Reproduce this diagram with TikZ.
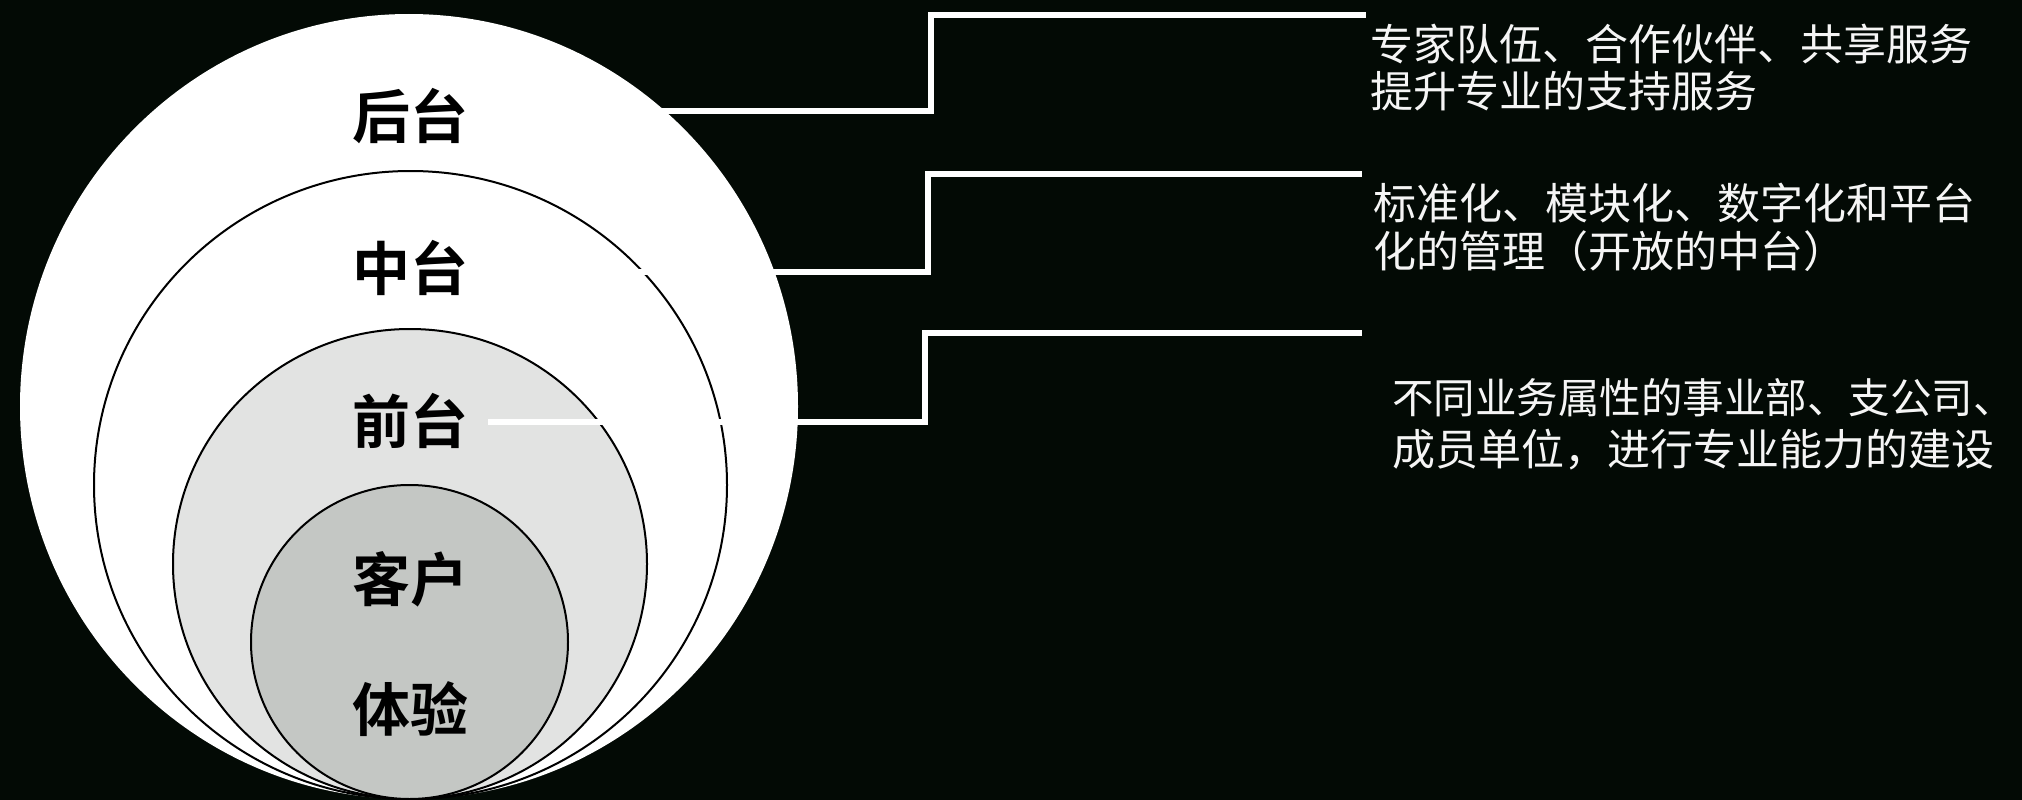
\documentclass[tikz,border=0pt]{standalone}
\usepackage{fontspec}
\newfontfamily\cjk{Noto Sans CJK SC}
\newfontfamily\cjkbold{Noto Sans CJK SC Bold}
\usetikzlibrary{shapes.geometric}
\definecolor{bgdark}{RGB}{3,10,5}
\definecolor{ringgray}{RGB}{226,227,226}
\definecolor{coregray}{RGB}{196,199,196}
\definecolor{txtwhite}{RGB}{245,245,245}
\tikzset{
  ring/.style={ellipse, inner sep=0pt, outer sep=0pt, line width=2pt, draw=black},
  lvl/.style={font=\cjkbold\fontsize{58}{58}\selectfont, text=black, anchor=base, inner sep=0pt},
  desc/.style={font=\cjk\fontsize{43}{46}\selectfont, text=txtwhite, anchor=base west, inner sep=0pt},
  leader/.style={draw=white, line width=6.5pt, line cap=butt, line join=miter}
}
\begin{document}
\begin{tikzpicture}[x=1pt, y=-1pt]
\useasboundingbox (0,0) rectangle (2022,800);
\fill[bgdark] (0,0) rectangle (2022,800);

% nested ellipses
\node[ellipse, inner sep=0pt, fill=white, minimum width=778pt, minimum height=785pt] (back) at (409,406.5) {};
\node[ring, fill=white, minimum width=633pt, minimum height=628pt] (mid) at (410.5,485) {};
\node[ring, fill=ringgray, minimum width=474pt, minimum height=470pt] (front) at (410,564) {};
\node[ring, fill=coregray, minimum width=317pt, minimum height=314pt] (core) at (409.5,642) {};

% labels in ellipses
\node[lvl] (lback) at (410,138) {后台};
\node[lvl] (lmid) at (410,290) {中台};
\node[lvl] (lfront) at (410,443) {前台};
\node[lvl] (lcore1) at (410,601) {客户};
\node[lvl] (lcore2) at (410,731) {体验};

% leader lines
\coordinate (s1) at (650,111);
\coordinate (e1) at (1366,15);
\coordinate (s2) at (600,272);
\coordinate (e2) at (1362,174);
\coordinate (s3) at (488,422);
\coordinate (e3) at (1362,333);
\draw[leader] (s1) -- ++(281,0) |- (e1);
\draw[leader] (s2) -- ++(328,0) |- (e2);
\draw[leader] (s3) -- ++(437,0) |- (e3);

% descriptions
\node[desc] (d1a) at (1370,61) {专家队伍、合作伙伴、共享服务};
\node[desc] (d1b) at (1370,107) {提升专业的支持服务};
\node[desc] (d2a) at (1373,219) {标准化、模块化、数字化和平台};
\node[desc] (d2b) at (1373,267) {化的管理（开放的中台）};
\node[desc, font=\cjk\fontsize{41.5}{46}\selectfont] (d3a) at (1392,413) {不同业务属性的事业部、支公司、};
\node[desc] (d3b) at (1392,465) {成员单位，进行专业能力的建设};
\end{tikzpicture}
\end{document}
